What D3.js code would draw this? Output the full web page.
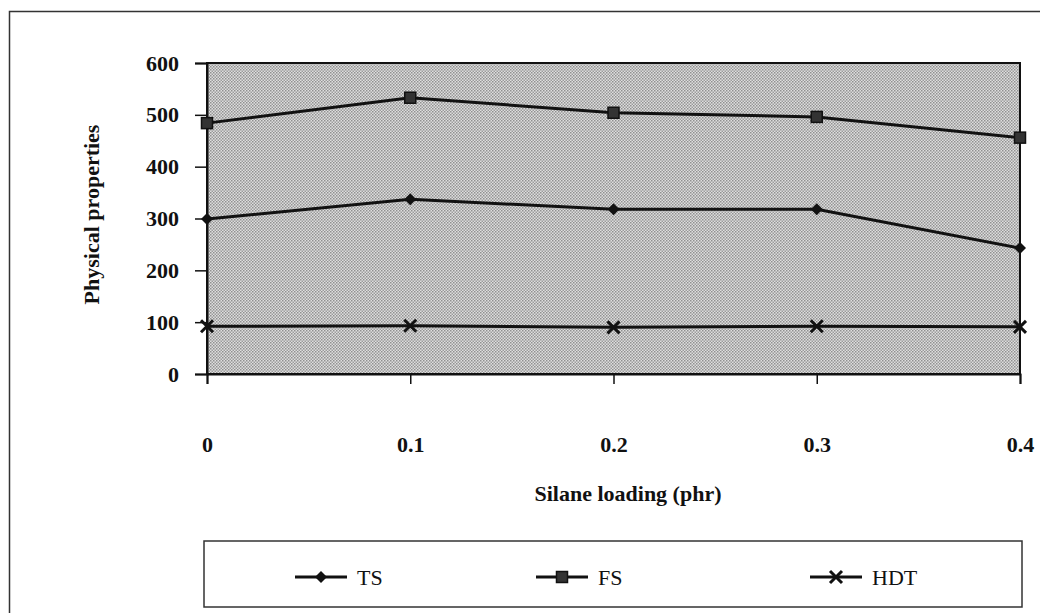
<!DOCTYPE html>
<html lang="en">
<head>
<meta charset="UTF-8">
<title>Physical properties vs silane loading</title>
<script src="https://d3js.org/d3.v7.min.js"></script>
<style>
    body { margin: 0; background: #fff; }
    text { font-family: "Liberation Serif", "DejaVu Serif", serif; font-weight: bold; fill: #111; }
</style>
</head>
<body>
<div id="chart"></div>
<script>
// Data
var loadings = ["0", "0.1", "0.2", "0.3", "0.4"];
var tsValues = [299, 337, 318, 318, 243];
var fsValues = [484, 533, 504, 496, 456];
var hdtValues = [92, 93, 90, 92, 91];
var yTicks = [0, 100, 200, 300, 400, 500, 600];

var series = [
    { name: "TS", values: tsValues, marker: "diamond" },
    { name: "FS", values: fsValues, marker: "square" },
    { name: "HDT", values: hdtValues, marker: "cross" }
];

var width = 1040, height = 613;
var plot = { left: 207, right: 1020, top: 63, bottom: 374 };
var fontSize = "22px";

var svg = d3.select("#chart").append("svg")
    .attr("width", width)
    .attr("height", height);

// halftone pattern for the plot area
var defs = svg.append("defs");
var pat = defs.append("pattern")
    .attr("id", "dots")
    .attr("patternUnits", "userSpaceOnUse")
    .attr("width", 3)
    .attr("height", 3);
pat.append("rect").attr("width", 3).attr("height", 3).attr("fill", "#dedede");
pat.append("rect").attr("width", 1.5).attr("height", 1.5).attr("fill", "#909090");
pat.append("rect").attr("x", 1.5).attr("y", 1.5).attr("width", 1.5).attr("height", 1.5).attr("fill", "#9c9c9c");

// outer frame
svg.append("rect")
    .attr("x", 9.5).attr("y", 11.5)
    .attr("width", width).attr("height", height)
    .attr("fill", "none")
    .attr("stroke", "#333")
    .attr("stroke-width", 1.5);

var x = d3.scalePoint()
    .domain(loadings)
    .range([plot.left, plot.right]);

var y = d3.scaleLinear()
    .domain([0, 600])
    .range([plot.bottom, plot.top]);

svg.append("rect")
    .attr("x", plot.left).attr("y", plot.top)
    .attr("width", plot.right - plot.left)
    .attr("height", plot.bottom - plot.top)
    .attr("fill", "url(#dots)")
    .attr("stroke", "#111")
    .attr("stroke-width", 2);

// y axis
var yAxis = svg.append("g")
    .attr("transform", "translate(" + plot.left + ",0)")
    .call(d3.axisLeft(y).tickValues(yTicks).tickSize(12).tickPadding(16));
yAxis.select(".domain").attr("stroke", "#111").attr("stroke-width", 2);
yAxis.selectAll(".tick line").attr("stroke", "#111").attr("stroke-width", 1.5);
yAxis.selectAll(".tick text")
    .style("font-family", "'Liberation Serif', serif")
    .style("font-weight", "bold")
    .style("font-size", fontSize)
    .attr("fill", "#111");

// x axis
var xAxis = svg.append("g")
    .attr("transform", "translate(0," + plot.bottom + ")")
    .call(d3.axisBottom(x).tickSize(10).tickPadding(52));
xAxis.select(".domain").attr("stroke", "#111").attr("stroke-width", 2);
xAxis.selectAll(".tick line").attr("stroke", "#111").attr("stroke-width", 1.5);
xAxis.selectAll(".tick text")
    .style("font-family", "'Liberation Serif', serif")
    .style("font-weight", "bold")
    .style("font-size", fontSize)
    .attr("fill", "#111");

// axis titles
svg.append("text")
    .attr("transform", "translate(99," + ((plot.top + plot.bottom) / 2 - 4) + ") rotate(-90)")
    .attr("text-anchor", "middle")
    .style("font-size", fontSize)
    .text("Physical properties");

svg.append("text")
    .attr("x", 628).attr("y", 501)
    .attr("text-anchor", "middle")
    .style("font-size", fontSize)
    .text("Silane loading (phr)");

function drawMarker(g, kind, cx, cy) {
    if (kind === "diamond") {
        g.append("path")
            .attr("d", "M" + cx + "," + (cy - 6) + "L" + (cx + 6) + "," + cy + "L" + cx + "," + (cy + 6) + "L" + (cx - 6) + "," + cy + "Z")
            .attr("fill", "#111");
    } else if (kind === "square") {
        g.append("rect")
            .attr("x", cx - 5.5).attr("y", cy - 5.5)
            .attr("width", 11).attr("height", 11)
            .attr("fill", "#333").attr("stroke", "#111").attr("stroke-width", 1.5);
    } else {
        g.append("path")
            .attr("d", "M" + (cx - 6) + "," + (cy - 6) + "L" + (cx + 6) + "," + (cy + 6) +
                "M" + (cx + 6) + "," + (cy - 6) + "L" + (cx - 6) + "," + (cy + 6))
            .attr("stroke", "#111").attr("stroke-width", 3).attr("fill", "none");
    }
}

var line = d3.line()
    .x(function(d, i) { return x(loadings[i]); })
    .y(function(d) { return y(d); });

series.forEach(function(s) {
    var g = svg.append("g");
    g.append("path")
        .attr("d", line(s.values))
        .attr("fill", "none")
        .attr("stroke", "#111")
        .attr("stroke-width", 3);
    s.values.forEach(function(v, i) {
        drawMarker(g, s.marker, x(loadings[i]), y(v));
    });
});

// legend
var legend = svg.append("g");
legend.append("rect")
    .attr("x", 204).attr("y", 541)
    .attr("width", 818).attr("height", 66)
    .attr("fill", "#fff")
    .attr("stroke", "#333")
    .attr("stroke-width", 1.5);

var legendX = [295, 536, 810];
series.forEach(function(s, i) {
    var lx = legendX[i], ly = 577;
    legend.append("line")
        .attr("x1", lx).attr("x2", lx + 52)
        .attr("y1", ly).attr("y2", ly)
        .attr("stroke", "#111").attr("stroke-width", 3);
    drawMarker(legend, s.marker, lx + 26, ly);
    legend.append("text")
        .attr("x", lx + 62).attr("y", ly + 8)
        .style("font-size", fontSize)
        .style("font-weight", "normal")
        .text(s.name);
});
</script>
</body>
</html>
